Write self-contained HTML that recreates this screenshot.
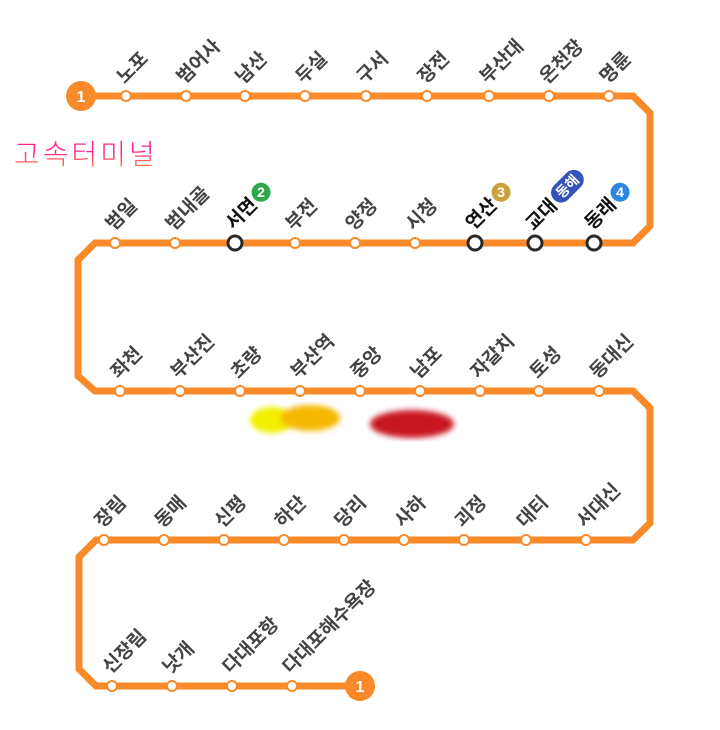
<!DOCTYPE html>
<html><head><meta charset="utf-8"><style>
body{margin:0;width:720px;height:730px;background:#fff;position:relative;overflow:hidden;font-family:"Liberation Sans","Noto Sans CJK KR",sans-serif}
.l{position:absolute;font-weight:bold;font-size:19px;line-height:20px;color:#444;white-space:nowrap;transform-origin:0 100%;transform:translate(10px,0) rotate(-45deg)}
.l.t{color:#111}
.b{display:inline-block;width:19px;height:19px;border-radius:50%;color:#fff;font-size:14px;line-height:19px;text-align:center;vertical-align:3px;margin-left:2px;transform:rotate(45deg)}
.p{display:inline-block;background:#3553b8;color:#fff;font-size:14px;line-height:20px;padding:0 6px;border-radius:10px;margin-left:2px;vertical-align:3px}
svg{position:absolute;left:0;top:0}
.g{position:absolute;left:14px;top:133px;font-size:28px;letter-spacing:3px;background:linear-gradient(#ff1f8f,#ff1f8f 45%,#ffa020);-webkit-background-clip:text;color:transparent;font-weight:300}
</style></head><body>
<svg width="720" height="730">
<defs><filter id="f"><feGaussianBlur stdDeviation="3"/></filter></defs>
<g filter="url(#f)"><ellipse cx="272" cy="420" rx="22" ry="13" fill="#f2f000"/><ellipse cx="310" cy="418" rx="30" ry="13" fill="#f5b800"/>
<ellipse cx="412" cy="424" rx="42" ry="14" fill="#c81420"/></g>
<polyline fill="none" stroke="#f98a2a" stroke-width="7" stroke-linejoin="miter" points="81,96 633,96 650,113 650,226 633,243 95,243 78,260 78,376 95,391 633,391 650,408 650,523 633,540 96,540 79,557 79,669 96,686 360,686"/>
<g fill="#fff" stroke="#f98a2a" stroke-width="2">
<circle cx="126" cy="96" r="5"/><circle cx="186" cy="96" r="5"/><circle cx="245" cy="96" r="5"/><circle cx="305" cy="96" r="5"/><circle cx="366" cy="96" r="5"/><circle cx="427" cy="96" r="5"/><circle cx="489" cy="96" r="5"/><circle cx="549" cy="96" r="5"/><circle cx="609" cy="96" r="5"/>
<circle cx="115" cy="243" r="5"/><circle cx="175" cy="243" r="5"/><circle cx="295" cy="243" r="5"/><circle cx="355" cy="243" r="5"/><circle cx="415" cy="243" r="5"/>
<circle cx="120" cy="391" r="5"/><circle cx="180" cy="391" r="5"/><circle cx="240" cy="391" r="5"/><circle cx="300" cy="391" r="5"/><circle cx="360" cy="391" r="5"/><circle cx="420" cy="391" r="5"/><circle cx="480" cy="391" r="5"/><circle cx="539" cy="391" r="5"/><circle cx="599" cy="391" r="5"/>
<circle cx="104" cy="540" r="5"/><circle cx="164" cy="540" r="5"/><circle cx="224" cy="540" r="5"/><circle cx="284" cy="540" r="5"/><circle cx="344" cy="540" r="5"/><circle cx="404" cy="540" r="5"/><circle cx="464" cy="540" r="5"/><circle cx="526" cy="540" r="5"/><circle cx="586" cy="540" r="5"/>
<circle cx="112" cy="686" r="5"/><circle cx="172" cy="686" r="5"/><circle cx="232" cy="686" r="5"/><circle cx="292" cy="686" r="5"/>
</g>
<g fill="#fff" stroke="#2a2a2a" stroke-width="3">
<circle cx="235" cy="243" r="7"/><circle cx="475" cy="243" r="7"/><circle cx="535" cy="243" r="7"/><circle cx="594" cy="243" r="7"/>
</g>
<circle cx="81" cy="96" r="15" fill="#f98a2a"/><text x="81" y="102" font-size="16" font-weight="bold" fill="#fff" text-anchor="middle" font-family="Liberation Sans">1</text>
<circle cx="360" cy="686" r="15" fill="#f98a2a"/><text x="360" y="692" font-size="16" font-weight="bold" fill="#fff" text-anchor="middle" font-family="Liberation Sans">1</text>
</svg>
<div class="g">고속터미널</div>
<div class="l" style="left:118px;top:68px">노포</div>
<div class="l" style="left:178px;top:68px">범어사</div>
<div class="l" style="left:237px;top:68px">남산</div>
<div class="l" style="left:297px;top:68px">두실</div>
<div class="l" style="left:358px;top:68px">구서</div>
<div class="l" style="left:419px;top:68px">장전</div>
<div class="l" style="left:481px;top:68px">부산대</div>
<div class="l" style="left:541px;top:68px">온천장</div>
<div class="l" style="left:601px;top:68px">명륜</div>
<div class="l" style="left:107px;top:215px">범일</div>
<div class="l" style="left:167px;top:215px">범내골</div>
<div class="l t" style="left:227px;top:212px">서면<span class="b" style="background:#2ea84a">2</span></div>
<div class="l" style="left:287px;top:215px">부전</div>
<div class="l" style="left:347px;top:215px">양정</div>
<div class="l" style="left:407px;top:215px">시청</div>
<div class="l t" style="left:467px;top:212px">연산<span class="b" style="background:#c9a23a">3</span></div>
<div class="l t" style="left:527px;top:212px">교대<span class="p">동해</span></div>
<div class="l t" style="left:586px;top:212px">동래<span class="b" style="background:#2f86e0">4</span></div>
<div class="l" style="left:112px;top:363px">좌천</div>
<div class="l" style="left:172px;top:363px">부산진</div>
<div class="l" style="left:232px;top:363px">초량</div>
<div class="l" style="left:292px;top:363px">부산역</div>
<div class="l" style="left:352px;top:363px">중앙</div>
<div class="l" style="left:412px;top:363px">남포</div>
<div class="l" style="left:472px;top:363px">자갈치</div>
<div class="l" style="left:531px;top:363px">토성</div>
<div class="l" style="left:591px;top:363px">동대신</div>
<div class="l" style="left:96px;top:512px">장림</div>
<div class="l" style="left:156px;top:512px">동매</div>
<div class="l" style="left:216px;top:512px">신평</div>
<div class="l" style="left:276px;top:512px">하단</div>
<div class="l" style="left:336px;top:512px">당리</div>
<div class="l" style="left:396px;top:512px">사하</div>
<div class="l" style="left:456px;top:512px">괴정</div>
<div class="l" style="left:518px;top:512px">대티</div>
<div class="l" style="left:578px;top:512px">서대신</div>
<div class="l" style="left:104px;top:658px">신장림</div>
<div class="l" style="left:164px;top:658px">낫개</div>
<div class="l" style="left:224px;top:658px">다대포항</div>
<div class="l" style="left:284px;top:658px">다대포해수욕장</div>
</body></html>
